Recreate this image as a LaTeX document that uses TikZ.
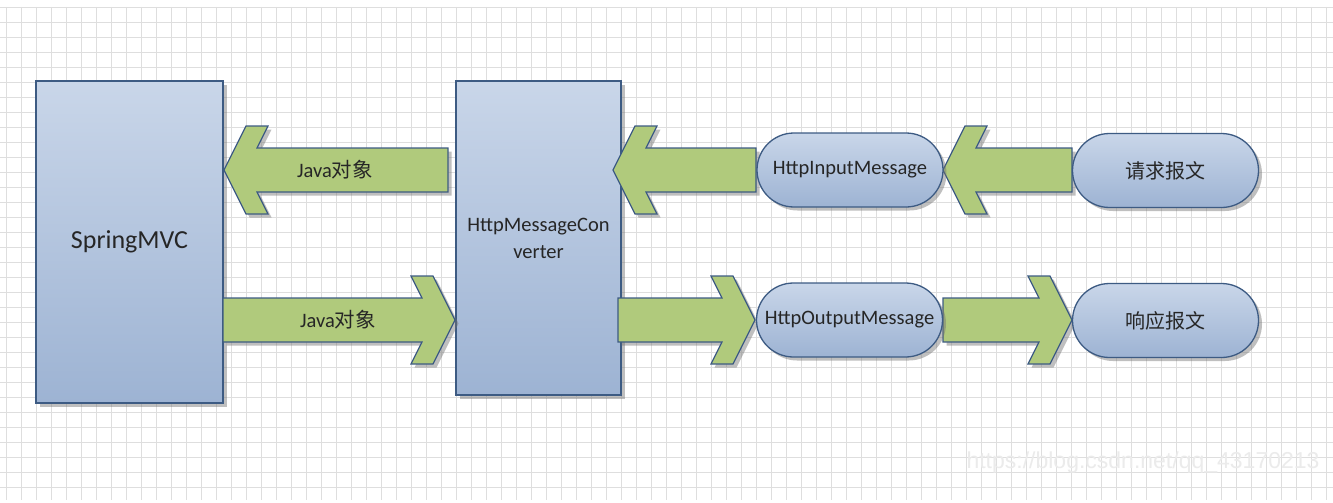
\documentclass[tikz,border=0pt]{standalone}
\usepackage{fontspec}
\setmainfont{Carlito}
\newfontfamily\cjk{Noto Sans CJK SC}
\newfontfamily\wmfont{Liberation Sans}
\usetikzlibrary{shadows,shapes.misc}
\definecolor{gridc}{HTML}{DEDEDE}
\definecolor{boxtop}{HTML}{C9D6E9}
\definecolor{boxbot}{HTML}{9DB3D3}
\definecolor{edgec}{HTML}{3D5B83}
\definecolor{greenc}{HTML}{B0CA7C}
\definecolor{txtc}{HTML}{262626}
\tikzset{
  shad/.style={drop shadow={shadow xshift=3.5pt, shadow yshift=-3.5pt, opacity=0.45, fill=black!55}},
  bluebox/.style={shad, draw=edgec, line width=1.3pt, top color=boxtop, bottom color=boxbot,
     text=txtc, align=center, inner sep=0pt},
  pill/.style={bluebox, rounded rectangle, minimum width=186pt, minimum height=74pt, font=\fontsize{20.5}{24}\selectfont},
  garrow/.style={shad, draw=edgec, line width=1.2pt, fill=greenc, line join=miter},
  alabel/.style={text=txtc, font=\fontsize{20.5}{24}\selectfont}
}
\newcommand\leftblock[3]{% tip x, tail x, y
  \draw[garrow] (#1,#3) -- (#1+22,#3-44) -- (#1+44,#3-44) -- (#1+33,#3-22) -- (#2,#3-22)
     -- (#2,#3+22) -- (#1+33,#3+22) -- (#1+44,#3+44) -- (#1+22,#3+44) -- cycle;}
\newcommand\rightblock[3]{% tail x, tip x, y
  \draw[garrow] (#1,#3-22) -- (#2-33,#3-22) -- (#2-44,#3-44) -- (#2-22,#3-44) -- (#2,#3)
     -- (#2-22,#3+44) -- (#2-44,#3+44) -- (#2-33,#3+22) -- (#1,#3+22) -- cycle;}
\begin{document}
\begin{tikzpicture}[x=1pt,y=-1pt]
\useasboundingbox (0,0) rectangle (1333,503);
\fill[white] (0,0) rectangle (1333,503);
% grid
\foreach \gx in {6,21,...,1332} \draw[gridc, line width=0.9pt] (\gx,7) -- (\gx,500);
\foreach \gy in {7,22,...,500} \draw[gridc, line width=0.9pt] (0,\gy) -- (1333,\gy);
% watermark
\node[text=black!8, font=\wmfont\fontsize{23}{26}\selectfont] (wm) at (1143,463) {https://blog.csdn.net/qq\_43170213};
% boxes
\node[bluebox, minimum width=187pt, minimum height=322pt, font=\fontsize{26}{30}\selectfont] (spring) at (129.5,242) {SpringMVC};
\node[bluebox, minimum width=165pt, minimum height=314pt, font=\fontsize{20.5}{27}\selectfont] (conv) at (538.5,238) {HttpMessageCon\\verter};
% block arrows
\leftblock{224}{448}{170}
\rightblock{223}{455}{320}
\leftblock{613}{756}{170}
\rightblock{618}{755}{320}
\leftblock{943}{1072}{170}
\rightblock{943}{1072}{320}
% pills
\node[pill] (in) at (850,170) {HttpInputMessage};
\node[pill] (out) at (849.5,320) {HttpOutputMessage};
\node[pill, font=\cjk\fontsize{20}{22}\selectfont] (req) at (1165.5,170.5) {请求报文};
\node[pill, font=\cjk\fontsize{20}{22}\selectfont] (resp) at (1165.5,320.5) {响应报文};
% arrow labels
\node[alabel] (lbl1) at (335,170) {Java{\cjk 对象}};
\node[alabel] (lbl2) at (338,320) {Java{\cjk 对象}};
\end{tikzpicture}
\end{document}
